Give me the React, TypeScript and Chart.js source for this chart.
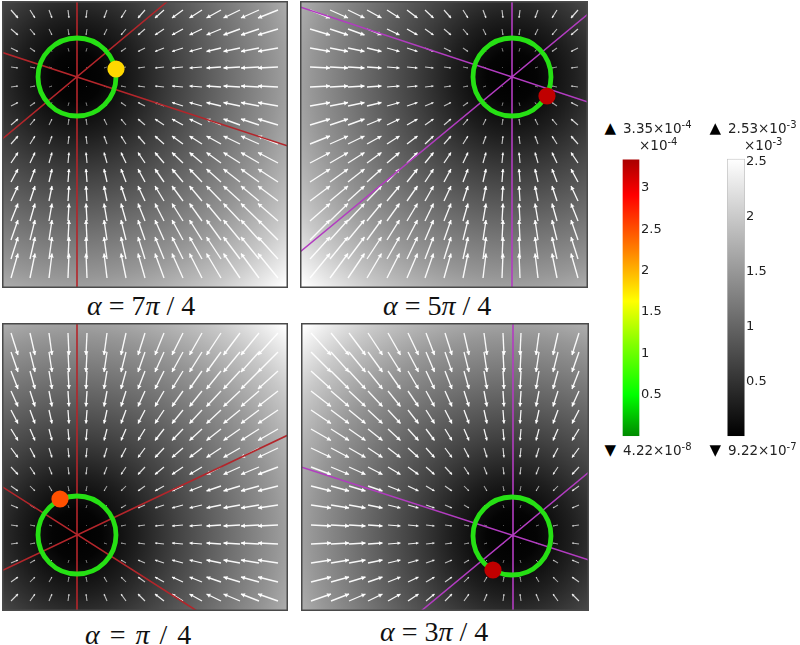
import React, { useEffect, useRef } from "react";
import { Chart, registerables } from "chart.js";

Chart.register(...registerables);

// Arrow tails and arrow components (page pixels)
const colsLeft = [11, 30, 49, 68, 87, 107, 126, 145, 164, 183, 202, 221, 240, 259, 278];
const colsRight = [310, 330, 348, 367, 387, 407, 425, 444, 463, 483, 502, 520, 538, 557, 578];
const rowsTop = [10, 29, 48, 67, 87, 106, 125, 144, 163, 182, 201, 221, 240, 259, 278];
const rowsBottom = [333, 352, 371, 391, 410, 429, 448, 467, 486, 505, 525, 544, 563, 582, 601];
const dxLeft = [7, 5, 3, 1, -1, -3, -5, -7, -9, -11, -12.5, -14.5, -16.5, -18, -20];
const dxRight = [20, 18, 16.5, 14.5, 12.5, 10.5, 8.5, 7, 5, 3, 1, -1, -3, -5, -7];
const dyTop = [8, 6, 3.5, 1, -1, -3.5, -6, -8, -10.5, -13, -15, -17.5, -20, -22, -24.5];
const dyBottom = [22, 20, 18, 15.5, 13.5, 11.5, 9.5, 7.5, 5, 3, 1, -1, -3, -5, -7];

// Spokes through each ring centre, as end points
const spokes1 = [[[77, 1], [77, 288]], [[168, 1], [1, 140]], [[1, 52], [288, 146]]];
const spokes2 = [[[512, 1], [512, 288]], [[300, 7], [588, 102]], [[588, 14], [300, 252]]];
const spokes3 = [[[77, 323], [77, 611]], [[288, 435], [1, 571]], [[1, 486], [197, 611]]];
const spokes4 = [[[513, 323], [513, 611]], [[301, 467], [589, 560]], [[589, 472], [421, 611]]];

const ringCentres = [[77, 77], [512, 77], [77, 535], [512, 536]];
const markers = [[116, 69], [547, 96], [60, 499], [493, 570]];
const markerColors = ["#ffd800", "#c00000", "#ff5000", "#c00000"];
const spokeColors = ["#b3262b", "#b23cc0", "#b3262b", "#b23cc0"];
const frames = [[2, 1, 288, 288], [300, 1, 588, 288], [2, 323, 288, 611], [301, 323, 589, 611]];

// Grey level against distance from the ring centre
const greyDistance = [0, 25, 60, 100, 150, 200, 250, 295];
const greyLevel = [0, 4, 30, 66, 108, 150, 200, 255];

// Colour bars
const heatStopValues = [0, 0.5, 1.1, 1.63, 2.25, 2.91, 3.35];
const heatStopColors = ["#008a00", "#00ff00", "#80ff00", "#ffff00", "#ff8000", "#ff0000", "#a80000"];
const greyStopValues = [0, 2.53];
const greyStopColors = ["#000000", "#ffffff"];
const heatTicks = [0.5, 1, 1.5, 2, 2.5, 3];
const greyTicks = [0.5, 1, 1.5, 2, 2.5];

const backdrop = (index: number) => ({
  id: "backdrop",
  beforeDatasetsDraw(chart: any) {
    const { ctx, scales, chartArea } = chart;
    const [cx, cy] = ringCentres[index];
    const px = scales.x.getPixelForValue(cx);
    const py = scales.y.getPixelForValue(cy);
    const max = greyDistance[greyDistance.length - 1];
    const g = ctx.createRadialGradient(px, py, 0, px, py, max);
    greyDistance.forEach((d, i) => {
      const v = greyLevel[i];
      g.addColorStop(d / max, `rgb(${v},${v},${v})`);
    });
    ctx.save();
    ctx.fillStyle = g;
    ctx.fillRect(chartArea.left, chartArea.top, chartArea.width, chartArea.height);
    ctx.restore();
  },
  afterDraw(chart: any) {
    const { ctx, chartArea } = chart;
    ctx.save();
    ctx.strokeStyle = "#4a4a4a";
    ctx.lineWidth = 1.5;
    ctx.strokeRect(chartArea.left + 0.75, chartArea.top + 0.75, chartArea.width - 1.5, chartArea.height - 1.5);
    ctx.restore();
  },
});

function arrowData(xs: number[], ys: number[], dx: number[], dy: number[]) {
  const shafts: any[] = [];
  const heads: any[] = [];
  ys.forEach((y, r) => {
    xs.forEach((x, c) => {
      const u = dx[c];
      const v = dy[r];
      const len = Math.hypot(u, v);
      const size = Math.min(2.6, len * 0.16);
      shafts.push({ x, y }, { x: x + u, y: y + v }, { x, y: null });
      heads.push({
        x: x + u * (1 - size / Math.max(len, 0.01)),
        y: y + v * (1 - size / Math.max(len, 0.01)),
        size,
        len,
        rot: (Math.atan2(u, -v) * 180) / Math.PI,
      });
    });
  });
  return { shafts, heads };
}

const arrowAlpha = (len: number) => Math.min(0.95, 0.28 + len * 0.055);

function makePanel(canvas: HTMLCanvasElement, i: number, xs: number[], ys: number[], dx: number[], dy: number[], spokes: number[][][]) {
  const [x0, y0, x1, y1] = frames[i];
  const { shafts, heads } = arrowData(xs, ys, dx, dy);
  const spokeData: any[] = [];
  spokes.forEach(([a, b]) => {
    spokeData.push({ x: a[0], y: a[1] }, { x: b[0], y: b[1] }, { x: a[0], y: null });
  });
  return new Chart(canvas, {
    type: "scatter",
    data: {
      datasets: [
        {
          data: shafts,
          showLine: true,
          spanGaps: false,
          pointRadius: 0,
          order: 5,
          borderColor: "#fff",
          borderWidth: 1.2,
          segment: {
            borderColor: (c: any) => `rgba(255,255,255,${arrowAlpha(Math.hypot(c.p1.x - c.p0.x, c.p1.y - c.p0.y))})`,
            borderWidth: (c: any) => Math.min(1.35, 0.8 + 0.035 * Math.hypot(c.p1.x - c.p0.x, c.p1.y - c.p0.y)),
          },
        },
        {
          data: heads,
          showLine: false,
          order: 4,
          pointStyle: "triangle",
          borderWidth: 0,
          pointRadius: (c: any) => c.raw?.size ?? 0,
          pointRotation: (c: any) => c.raw?.rot ?? 0,
          backgroundColor: (c: any) => `rgba(255,255,255,${arrowAlpha(c.raw?.len ?? 0)})`,
        },
        {
          data: spokeData,
          showLine: true,
          spanGaps: false,
          pointRadius: 0,
          order: 3,
          borderColor: spokeColors[i],
          borderWidth: 1.6,
        },
        {
          data: [{ x: ringCentres[i][0], y: ringCentres[i][1] }],
          showLine: false,
          order: 2,
          pointStyle: "circle",
          pointRadius: 39,
          borderWidth: 4.8,
          borderColor: "#26e014",
          backgroundColor: "rgba(0,0,0,0)",
        },
        {
          data: [{ x: markers[i][0], y: markers[i][1] }],
          showLine: false,
          order: 1,
          pointStyle: "circle",
          pointRadius: 8.6,
          borderWidth: 0,
          backgroundColor: markerColors[i],
        },
      ],
    } as any,
    options: {
      animation: false,
      responsive: false,
      events: [],
      layout: { padding: 0, autoPadding: false },
      plugins: { legend: { display: false }, tooltip: { enabled: false } },
      scales: {
        x: { type: "linear", display: false, min: x0, max: x1 },
        y: { type: "linear", display: false, reverse: true, min: y0, max: y1 },
      },
    } as any,
    plugins: [backdrop(i)],
  });
}

function makeBar(canvas: HTMLCanvasElement, maxValue: number, stopValues: number[], stopColors: string[], ticks: number[], edge: string) {
  return new Chart(canvas, {
    type: "bar",
    data: {
      labels: [""],
      datasets: [
        {
          data: [maxValue],
          barPercentage: 1,
          categoryPercentage: 1,
          borderWidth: 1,
          borderColor: edge,
          backgroundColor: (c: any) => {
            const y = c.chart.scales.y;
            const y0 = y ? y.getPixelForValue(0) : NaN;
            const y1 = y ? y.getPixelForValue(maxValue) : NaN;
            if (!Number.isFinite(y0) || !Number.isFinite(y1)) return stopColors[0];
            const g = c.chart.ctx.createLinearGradient(0, y0, 0, y1);
            stopValues.forEach((v, i) => g.addColorStop(v / maxValue, stopColors[i]));
            return g;
          },
        },
      ],
    } as any,
    options: {
      animation: false,
      responsive: false,
      events: [],
      layout: { padding: { top: 1, bottom: 5.6, left: 0, right: 0 }, autoPadding: false },
      plugins: { legend: { display: false }, tooltip: { enabled: false } },
      scales: {
        x: { display: false },
        y: {
          position: "right",
          min: 0,
          max: maxValue,
          border: { display: false },
          grid: { display: false, drawTicks: false },
          afterFit: (s: any) => { s.width = 40; },
          afterBuildTicks: (s: any) => { s.ticks = ticks.map((value) => ({ value })); },
          ticks: {
            autoSkip: false,
            padding: 1,
            color: "#222",
            font: { family: "DejaVu Sans", size: 13 },
            callback: (v: any) => String(v),
          },
        },
      },
    } as any,
  });
}

const textBase: React.CSSProperties = { position: "absolute", whiteSpace: "nowrap", lineHeight: 1 };

function Alpha({ left, bottom, n, gap = 0 }: { left: number; bottom: number; n: string; gap?: number }) {
  return (
    <div style={{ ...textBase, left, top: bottom - 22, fontFamily: "Liberation Serif", fontSize: 28, color: "#111", wordSpacing: gap }}>
      <i>α</i> = {n}<i>π</i> / 4
    </div>
  );
}

function Extent({ left, base, mark, value, exp }: { left: number; base: number; mark: string; value: string; exp: string }) {
  return (
    <>
      <div style={{ ...textBase, left: left - 18.5, top: base - 13, fontFamily: "DejaVu Sans", fontSize: 15, color: "#000" }}>{mark}</div>
      <div style={{ ...textBase, left, top: base - 12, fontFamily: "DejaVu Sans", fontSize: 13.5, color: "#222" }}>
        {value}×10<span style={{ fontSize: 10, position: "relative", top: -5 }}>{exp}</span>
      </div>
    </>
  );
}

function Factor({ left, base, exp }: { left: number; base: number; exp: string }) {
  return (
    <div style={{ ...textBase, left, top: base - 12, fontFamily: "DejaVu Sans", fontSize: 13.5, color: "#222" }}>
      ×10<span style={{ fontSize: 10, position: "relative", top: -5 }}>{exp}</span>
    </div>
  );
}

export default function App() {
  const p1 = useRef<HTMLCanvasElement>(null);
  const p2 = useRef<HTMLCanvasElement>(null);
  const p3 = useRef<HTMLCanvasElement>(null);
  const p4 = useRef<HTMLCanvasElement>(null);
  const b1 = useRef<HTMLCanvasElement>(null);
  const b2 = useRef<HTMLCanvasElement>(null);

  useEffect(() => {
    const charts = [
      makePanel(p1.current!, 0, colsLeft, rowsTop, dxLeft, dyTop, spokes1),
      makePanel(p2.current!, 1, colsRight, rowsTop, dxRight, dyTop, spokes2),
      makePanel(p3.current!, 2, colsLeft, rowsBottom, dxLeft, dyBottom, spokes3),
      makePanel(p4.current!, 3, colsRight.map((x) => x + 1), rowsBottom, dxRight, dyBottom, spokes4),
      makeBar(b1.current!, 3.35, heatStopValues, heatStopColors, heatTicks, "rgba(0,0,0,0)"),
      makeBar(b2.current!, 2.53, greyStopValues, greyStopColors, greyTicks, "rgba(150,150,150,0.6)"),
    ];
    return () => charts.forEach((c) => c.destroy());
  }, []);

  const refs = [p1, p2, p3, p4];
  return (
    <div style={{ position: "absolute", left: 0, top: 0, width: 800, height: 645, overflow: "hidden", background: "#fff", filter: "blur(0.45px)" }}>
      {frames.map((f, i) => (
        <canvas
          key={i}
          ref={refs[i]}
          width={f[2] - f[0]}
          height={f[3] - f[1]}
          style={{ position: "absolute", left: f[0], top: f[1], width: f[2] - f[0], height: f[3] - f[1] }}
        />
      ))}
      <canvas ref={b1} width={58} height={295} style={{ position: "absolute", left: 622, top: 150, width: 58, height: 295 }} />
      <canvas ref={b2} width={58} height={295} style={{ position: "absolute", left: 727, top: 150, width: 58, height: 295 }} />
      <Alpha left={87} bottom={314} n="7" />
      <Alpha left={383} bottom={314} n="5" />
      <Alpha left={85} bottom={643} n="" gap={3} />
      <Alpha left={380} bottom={640} n="3" />
      <Extent left={623} base={134} mark="▲" value="3.35" exp="-4" />
      <Extent left={728} base={134} mark="▲" value="2.53" exp="-3" />
      <Factor left={639} base={151} exp="-4" />
      <Factor left={744} base={151} exp="-3" />
      <Extent left={623} base={456} mark="▼" value="4.22" exp="-8" />
      <Extent left={728} base={456} mark="▼" value="9.22" exp="-7" />
    </div>
  );
}
